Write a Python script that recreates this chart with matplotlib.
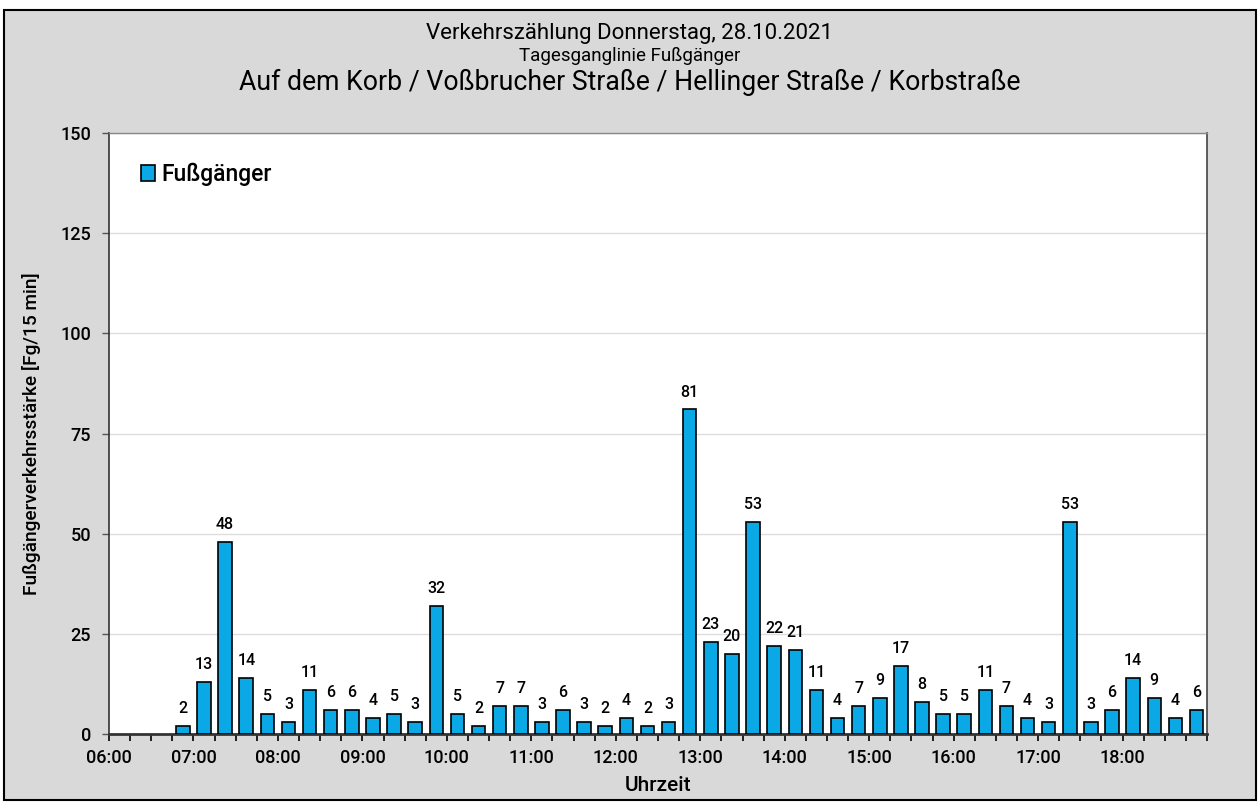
import matplotlib.pyplot as plt
import numpy as np
from matplotlib.patches import Rectangle

plt.rcParams['font.family'] = ['Roboto', 'DejaVu Sans']

# 15-min intervals from 06:00 to 19:00 (first three slots without counts)
slot_start = np.arange(6.0, 19.0, 0.25)
fussgaenger = [0, 0, 0,
               2, 13, 48, 14, 5, 3, 11, 6, 6, 4, 5, 3, 32, 5, 2, 7, 7, 3, 6, 3,
               2, 4, 2, 3, 81, 23, 20, 53, 22, 21, 11, 4, 7, 9, 17, 8, 5, 5,
               11, 7, 4, 3, 53, 3, 6, 14, 9, 4, 6]
hour_labels = ['06:00', '07:00', '08:00', '09:00', '10:00', '11:00', '12:00',
               '13:00', '14:00', '15:00', '16:00', '17:00', '18:00']

bar_color = '#0AA8E4'

fig = plt.figure(figsize=(12.6, 8.06), dpi=100)
fig.patch.set_facecolor('white')

# Gray frame around the whole chart
fig.patches.append(Rectangle((0.003, 0.007), 0.994, 0.981, transform=fig.transFigure,
                             facecolor='#D9D9D9', edgecolor='black', linewidth=1.5, zorder=-10))

ax = fig.add_axes([0.0865, 0.0893, 0.8715, 0.7457])
ax.set_facecolor('white')

x = slot_start + 0.125
vals = np.array(fussgaenger)
shown = vals > 0
bars = ax.bar(x[shown], vals[shown], width=0.16, color=bar_color,
              edgecolor='black', linewidth=1.2, label='Fußgänger', zorder=3)

# Value labels
for xi, v in zip(x[shown], vals[shown]):
    ax.annotate(str(v), (xi, v), xytext=(0, 7), textcoords='offset points',
                ha='center', va='bottom', fontsize=11.5, fontweight='medium')

ax.set_xlim(6, 19)
ax.set_ylim(0, 150)
ax.set_yticks(np.arange(0, 151, 25))
ax.set_xticks(np.arange(6, 19, 1))
ax.set_xticklabels(hour_labels)
ax.set_xticks(np.arange(6, 19.01, 0.25), minor=True)
ax.tick_params(axis='x', which='both', direction='out', length=5, width=1.2, labelsize=13, pad=6)
ax.tick_params(axis='y', direction='out', length=5, width=1, color='#555555', labelsize=13, pad=8)
for lbl in ax.get_xticklabels() + ax.get_yticklabels():
    lbl.set_fontweight('medium')

ax.grid(axis='y', color='#DDDDDD', linewidth=1, zorder=0)
ax.set_axisbelow(True)

for side in ['left', 'bottom']:
    ax.spines[side].set_color('#333333')
ax.spines['left'].set_linewidth(1.2)
ax.spines['bottom'].set_linewidth(2)
ax.spines['right'].set_color('#444444')
ax.spines['right'].set_linewidth(1.2)
ax.spines['top'].set_color('#888888')
ax.spines['top'].set_linewidth(1)

ax.set_xlabel('Uhrzeit', fontsize=15, fontweight='medium', labelpad=6)
ax.set_ylabel('Fußgängerverkehrsstärke [Fg/15 min]', fontsize=13.8, fontweight='medium', labelpad=14)

leg = ax.legend(loc='upper left', bbox_to_anchor=(0.01, 0.985), frameon=False,
                fontsize=16.5, handlelength=0.65, handleheight=0.65, handletextpad=0.25)
for t in leg.get_texts():
    t.set_fontweight('medium')

#Titles
fig.text(0.5, 0.959, 'Verkehrszählung Donnerstag, 28.10.2021', ha='center', va='center', fontsize=16)
fig.text(0.5, 0.930, 'Tagesganglinie Fußgänger', ha='center', va='center', fontsize=13.5)
fig.text(0.5, 0.898, 'Auf dem Korb / Voßbrucher Straße / Hellinger Straße / Korbstraße',
         ha='center', va='center', fontsize=19.2)

fig.savefig('out.png', dpi=100)
